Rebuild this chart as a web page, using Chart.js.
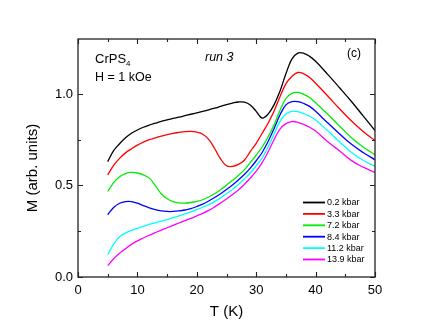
<!DOCTYPE html>
<html>
<head>
<meta charset="utf-8">
<script src="https://cdn.jsdelivr.net/npm/chart.js@4.4.1/dist/chart.umd.min.js"></script>
<style>
    html, body { margin: 0; padding: 0; background: #fff; }
    #wrap { width: 436px; height: 333px; }
</style>
</head>
<body>
<div id="wrap"><canvas id="chart" width="436" height="333"></canvas></div>
<script>
// Temperatures (K) shared by all pressure runs
const temps = [5, 6, 7, 8, 9, 10, 11, 12, 13, 14, 15, 16, 17, 18, 19, 20, 21, 22, 23, 24,
    25, 26, 27, 28, 29, 30, 31, 32, 33, 34, 35, 36, 37, 38, 39, 40, 42, 44, 46, 48, 50];

// Magnetization (arb. units) for each pressure
const m02 = [0.63, 0.69, 0.728, 0.76, 0.785, 0.803, 0.818, 0.83, 0.84, 0.85, 0.858, 0.866, 0.873, 0.881,
    0.889, 0.897, 0.905, 0.913, 0.922, 0.932, 0.942, 0.95, 0.956, 0.955, 0.94, 0.905, 0.868, 0.89,
    0.94, 1.015, 1.11, 1.19, 1.223, 1.222, 1.205, 1.178, 1.108, 1.035, 0.96, 0.88, 0.80];
const m33 = [0.558, 0.61, 0.648, 0.678, 0.70, 0.72, 0.737, 0.75, 0.76, 0.77, 0.778, 0.785, 0.79, 0.794,
    0.795, 0.791, 0.78, 0.752, 0.702, 0.645, 0.608, 0.604, 0.615, 0.638, 0.685, 0.73, 0.785, 0.84,
    0.905, 0.985, 1.055, 1.095, 1.117, 1.11, 1.09, 1.058, 0.99, 0.92, 0.853, 0.795, 0.745];
const m72 = [0.467, 0.515, 0.548, 0.565, 0.571, 0.568, 0.558, 0.54, 0.5, 0.455, 0.427, 0.412, 0.405, 0.404,
    0.407, 0.413, 0.422, 0.437, 0.455, 0.477, 0.502, 0.528, 0.555, 0.585, 0.625, 0.665, 0.71, 0.765,
    0.83, 0.91, 0.975, 1.003, 1.008, 0.998, 0.98, 0.952, 0.89, 0.825, 0.762, 0.71, 0.667];
const m84 = [0.34, 0.38, 0.403, 0.412, 0.412, 0.403, 0.39, 0.378, 0.368, 0.361, 0.358, 0.358, 0.361, 0.366,
    0.373, 0.385, 0.398, 0.415, 0.434, 0.455, 0.478, 0.503, 0.53, 0.56, 0.595, 0.635, 0.68, 0.74,
    0.81, 0.885, 0.94, 0.958, 0.958, 0.948, 0.932, 0.905, 0.843, 0.783, 0.726, 0.68, 0.64];
const m112 = [0.122, 0.18, 0.22, 0.24, 0.255, 0.266, 0.277, 0.287, 0.296, 0.305, 0.314, 0.324, 0.334, 0.345,
    0.356, 0.368, 0.381, 0.395, 0.412, 0.432, 0.455, 0.478, 0.505, 0.535, 0.568, 0.607, 0.65, 0.71,
    0.78, 0.85, 0.89, 0.905, 0.903, 0.892, 0.878, 0.858, 0.8, 0.739, 0.682, 0.638, 0.604];
const m139 = [0.062, 0.1, 0.13, 0.155, 0.178, 0.197, 0.213, 0.228, 0.242, 0.256, 0.269, 0.282, 0.295, 0.308,
    0.32, 0.334, 0.348, 0.364, 0.383, 0.404, 0.426, 0.45, 0.475, 0.505, 0.54, 0.578, 0.625, 0.683,
    0.75, 0.808, 0.838, 0.849, 0.845, 0.833, 0.818, 0.797, 0.74, 0.69, 0.637, 0.6, 0.571];

const seriesLabels = ['0.2 kbar', '3.3 kbar', '7.2 kbar', '8.4 kbar', '11.2 kbar', '13.9 kbar'];
const seriesValues = [m02, m33, m72, m84, m112, m139];
const seriesColors = ['#000000', '#ff0000', '#00ee00', '#0000ff', '#00ffff', '#ff00ff'];

const FONT = '"Liberation Sans", Arial, Helvetica, sans-serif';

// Inward ticks on all four sides, frame, annotations and legend
const framePlugin = {
    id: 'frame',
    afterDraw(chart) {
        const ctx = chart.ctx;
        const area = chart.chartArea;
        const xs = chart.scales.x;
        const ys = chart.scales.y;
        ctx.save();
        ctx.strokeStyle = '#222';
        ctx.lineWidth = 1.3;
        ctx.strokeRect(area.left, area.top, area.right - area.left, area.bottom - area.top);

        ctx.lineWidth = 1.1;
        ctx.beginPath();
        xs.ticks.forEach(t => {
            if (Math.abs(t.value / 5 - Math.round(t.value / 5)) > 1e-6) return;
            const len = t.value % 10 === 0 ? 5 : 3;
            const px = Math.round(xs.getPixelForValue(t.value)) + 0.5;
            ctx.moveTo(px, area.bottom); ctx.lineTo(px, area.bottom - len);
            ctx.moveTo(px, area.top); ctx.lineTo(px, area.top + len);
        });
        ys.ticks.forEach(t => {
            const q = t.value / 0.25;
            if (Math.abs(q - Math.round(q)) > 1e-6) return;
            const len = Math.round(q) % 2 === 0 ? 5 : 3;
            const py = Math.round(ys.getPixelForValue(t.value)) + 0.5;
            ctx.moveTo(area.left, py); ctx.lineTo(area.left + len, py);
            ctx.moveTo(area.right, py); ctx.lineTo(area.right - len, py);
        });
        ctx.stroke();

        // y-axis title
        ctx.fillStyle = '#000';
        ctx.save();
        ctx.translate(37, 168);
        ctx.rotate(-Math.PI / 2);
        ctx.font = '15px ' + FONT;
        ctx.textAlign = 'center';
        ctx.textBaseline = 'alphabetic';
        ctx.fillText('M (arb. units)', 0, 0);
        ctx.restore();

        // annotations
        ctx.textAlign = 'left';
        ctx.textBaseline = 'alphabetic';
        ctx.font = '13px ' + FONT;
        ctx.fillText('CrPS', 95, 62.5);
        const w = ctx.measureText('CrPS').width;
        ctx.font = '8px ' + FONT;
        ctx.fillText('4', 95 + w, 66);
        ctx.font = '12.5px ' + FONT;
        ctx.fillText('H = 1 kOe', 95, 81);
        ctx.font = 'italic 12.5px ' + FONT;
        ctx.fillText('run 3', 205, 61);
        ctx.font = '12px ' + FONT;
        ctx.fillText('(c)', 347, 57);

        // legend
        ctx.font = '9px ' + FONT;
        ctx.textBaseline = 'middle';
        chart.data.datasets.forEach((ds, i) => {
            const y = 202.5 + i * 11.4;
            ctx.strokeStyle = ds.borderColor;
            ctx.lineWidth = 1.8;
            ctx.beginPath();
            ctx.moveTo(303, y); ctx.lineTo(325, y);
            ctx.stroke();
            ctx.fillStyle = '#000';
            ctx.fillText(ds.label, 327, y + 0.5);
        });
        ctx.restore();
    }
};

const datasets = seriesLabels.map((label, i) => ({
    label: label,
    data: temps.map((t, j) => ({ x: t, y: seriesValues[i][j] })),
    borderColor: seriesColors[i],
    borderWidth: 1.3,
    pointRadius: 0,
    fill: false,
    tension: 0.4
}));

new Chart(document.getElementById('chart').getContext('2d'), {
    type: 'line',
    data: { datasets: datasets },
    options: {
        responsive: false,
        animation: false,
        devicePixelRatio: 1,
        layout: { padding: { top: 39, right: 61, left: 0, bottom: 12 } },
        plugins: { legend: { display: false }, tooltip: { enabled: false } },
        scales: {
            x: {
                type: 'linear',
                min: 0,
                max: 50,
                grid: { display: false, drawTicks: false },
                border: { display: false },
                ticks: {
                    stepSize: 5,
                    padding: 6,
                    color: '#000',
                    font: { family: FONT, size: 13 },
                    maxRotation: 0,
                    autoSkip: false,
                    callback: v => (v % 10 === 0 ? String(v) : '')
                },
                title: {
                    display: true,
                    text: 'T (K)',
                    color: '#000',
                    font: { family: FONT, size: 15 },
                    padding: { top: 6, bottom: 0 }
                },
                afterFit: scale => { scale.height = 44; }
            },
            y: {
                min: 0,
                max: 1.3,
                grid: { display: false, drawTicks: false },
                border: { display: false },
                ticks: {
                    stepSize: 0.25,
                    padding: 5,
                    color: '#000',
                    font: { family: FONT, size: 13 },
                    autoSkip: false,
                    callback: v => {
                        const h = v * 2;
                        return Math.abs(h - Math.round(h)) < 1e-6 ? v.toFixed(1) : '';
                    }
                },
                afterFit: scale => { scale.width = 78; }
            }
        }
    },
    plugins: [framePlugin]
});
</script>
</body>
</html>
